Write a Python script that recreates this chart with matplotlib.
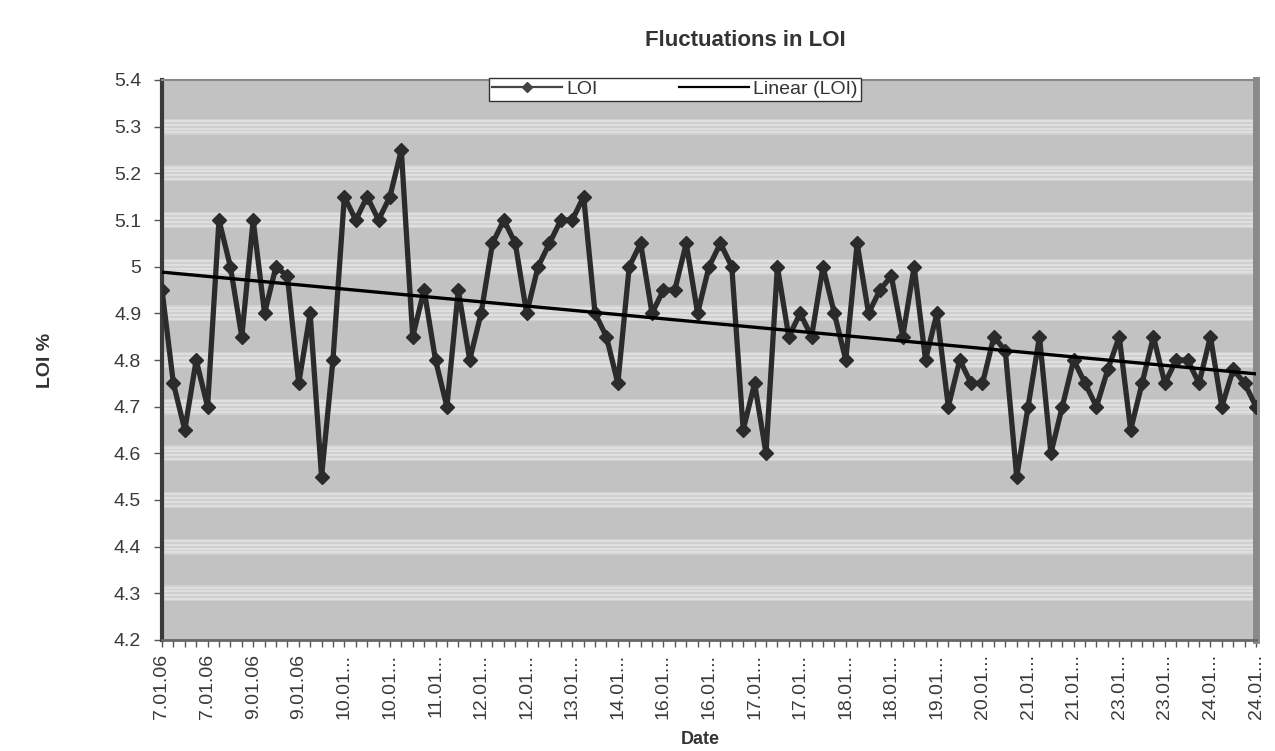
import numpy as np
import matplotlib
matplotlib.use("Agg")
import matplotlib.pyplot as plt
from matplotlib.lines import Line2D

plt.rcParams['font.family'] = ['Liberation Sans', 'DejaVu Sans']

# ---- data ----
loi = [4.95, 4.75, 4.65, 4.80, 4.70, 5.10, 5.00, 4.85, 5.10, 4.90, 5.00, 4.98, 4.75, 4.90, 4.55, 4.80, 5.15,
       5.10, 5.15, 5.10, 5.15, 5.25, 4.85, 4.95, 4.80, 4.70, 4.95, 4.80, 4.90, 5.05, 5.10, 5.05, 4.90,
       5.00, 5.05, 5.10, 5.10, 5.15, 4.90, 4.85, 4.75, 5.00, 5.05, 4.90, 4.95, 4.95, 5.05, 4.90, 5.00,
       5.05, 5.00, 4.65, 4.75, 4.60, 5.00, 4.85, 4.90, 4.85, 5.00, 4.90, 4.80, 5.05, 4.90, 4.95, 4.98,
       4.85, 5.00, 4.80, 4.90, 4.70, 4.80, 4.75, 4.75, 4.85, 4.82, 4.55, 4.70, 4.85, 4.60, 4.70, 4.80,
       4.75, 4.70, 4.78, 4.85, 4.65, 4.75, 4.85, 4.75, 4.80, 4.80, 4.75, 4.85, 4.70, 4.78, 4.75, 4.70]
date_labels = ["7.01.06", "7.01.06", "9.01.06", "9.01.06", "10.01...", "10.01...", "11.01...",
               "12.01...", "12.01...", "13.01...", "14.01...", "16.01...", "16.01...", "17.01...",
               "17.01...", "18.01...", "18.01...", "19.01...", "20.01...", "21.01...", "21.01...",
               "23.01...", "23.01...", "24.01...", "24.01..."]
label_step = 4
y_ticks = [4.2, 4.3, 4.4, 4.5, 4.6, 4.7, 4.8, 4.9, 5.0, 5.1, 5.2, 5.3, 5.4]
y_tick_labels = ["4.2", "4.3", "4.4", "4.5", "4.6", "4.7", "4.8", "4.9", "5", "5.1", "5.2", "5.3", "5.4"]

x = np.arange(len(loi))
coef = np.polyfit(x, loi, 1)
trend = np.polyval(coef, x)

W, H = 1275, 751
fig = plt.figure(figsize=(W / 100, H / 100), dpi=100)
L, R, T, B = 162, 1256, 80, 640
ax = fig.add_axes([L / W, 1 - B / H, (R - L) / W, (B - T) / H])
ax.set_facecolor('#c2c2c2')

# striped gridlines
for g in y_ticks[1:-1]:
    ax.axhspan(g - 0.017, g + 0.017, color='#d0d0d0', lw=0, zorder=0.5)
    for off in (-0.012, -0.004, 0.004, 0.012):
        ax.axhline(g + off, color='#e4e4e4', lw=1.1, zorder=0.6)

ax.plot(x, loi, color='#2b2b2b', lw=3.8, marker='D', markersize=7,
        markerfacecolor='#2b2b2b', markeredgecolor='#2b2b2b', zorder=3)
ax.plot(x, trend, color='black', lw=2.4, zorder=4)

ax.set_xlim(0, len(loi) - 1)
ax.set_ylim(4.2, 5.4)
ax.set_yticks(y_ticks)
ax.set_yticklabels(y_tick_labels)
ax.set_xticks(x[::label_step])
ax.set_xticklabels(date_labels, rotation=90, va='top', ha='center')
ax.set_xticks(x, minor=True)
ax.tick_params(axis='x', which='both', direction='out', length=5, width=1, color='#555',
               labelsize=14, labelcolor='#3a3a3a', pad=5)
ax.tick_params(axis='y', direction='out', length=6, width=1, color='#555',
               labelsize=14, labelcolor='#3a3a3a', pad=9)

ax.spines['left'].set_color('#3a3a3a')
ax.spines['left'].set_linewidth(3)
ax.spines['right'].set_color('#8a8a8a')
ax.spines['right'].set_linewidth(5)
ax.spines['top'].set_color('#8a8a8a')
ax.spines['top'].set_linewidth(1.5)
ax.spines['bottom'].set_color('#666')
ax.spines['bottom'].set_linewidth(2)

handles = [Line2D([], [], color='#444', lw=1.6, marker='D', markersize=5),
           Line2D([], [], color='black', lw=1.6)]
leg = ax.legend(handles, ['LOI', 'Linear (LOI)'], ncol=2, loc='upper center',
                bbox_to_anchor=((675 - L) / (R - L), 1.004), borderaxespad=0,
                frameon=True, fancybox=False, edgecolor='#333', framealpha=1,
                fontsize=14, handlelength=3.6, columnspacing=4.2, borderpad=0.15,
                handletextpad=0.2)
for t in leg.get_texts():
    t.set_color('#333')
leg.get_frame().set_linewidth(1)
leg.set_zorder(10)

fig.text(745 / W, 1 - 40 / H, 'Fluctuations in LOI', ha='center', va='center',
         fontsize=16, fontweight='bold', color='#333')
fig.text(46 / W, 1 - 360 / H, 'LOI %', ha='center', va='center', rotation=90,
         fontsize=14, fontweight='bold', color='#333')
fig.text(700 / W, 1 - 740 / H, 'Date', ha='center', va='center',
         fontsize=13, fontweight='bold', color='#333')

fig.savefig('out.png', dpi=100)
